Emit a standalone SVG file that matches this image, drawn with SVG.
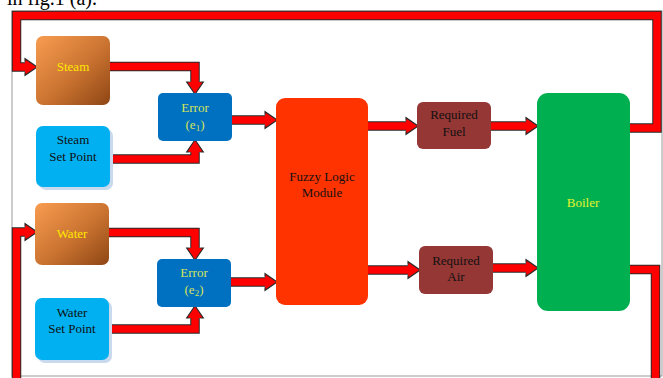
<svg xmlns="http://www.w3.org/2000/svg" width="663" height="378" viewBox="0 0 663 378">
<style>
.t{font-family:"Liberation Serif","Times New Roman",serif;font-size:13px;text-anchor:middle}
.dark{fill:#111}
.yel{fill:#FFE800}
.err{fill:#D4E45C}
.ol{fill:none;stroke:#2a2a2a;stroke-width:9.5;stroke-linejoin:miter}
.rd{fill:none;stroke:#FF0000;stroke-width:7.5;stroke-linejoin:miter}
.sh{fill:#C9D9EE}
</style>
<defs>
<linearGradient id="og" x1="0" y1="0" x2="1" y2="1">
<stop offset="0" stop-color="#F89C50"/>
<stop offset="0.55" stop-color="#C97230"/>
<stop offset="1" stop-color="#8E4614"/>
</linearGradient>
<marker id="ah" markerUnits="userSpaceOnUse" markerWidth="16" markerHeight="20" viewBox="-1 -9 14 18" refX="0" refY="0" orient="auto" overflow="visible">
<path d="M0,-4.7 L0,-7.5 L11,0 L0,7.5 L0,4.7" fill="#FF0000" stroke="#2a2a2a" stroke-width="1"/>
</marker>
</defs>
<rect width="663" height="378" fill="#ffffff"/>
<text x="7" y="5" style="font-family:'Liberation Serif','Times New Roman',serif;font-size:20px" fill="#000">in fig.1 (a).</text>
<rect x="12" y="11" width="650" height="365" fill="none" stroke="#9a9a9a" stroke-width="1"/>

<g id="connectors">
<path class="ol" d="M629,128 H657 V15.5 H16.5 V67 H25"/>
<path class="rd" d="M629,128 H657 V15.5 H16.5 V67 H25" marker-end="url(#ah)"/>
<path class="ol" d="M629,269.5 H655.5 V382"/>
<path class="rd" d="M629,269.5 H655.5 V382"/>
<path class="ol" d="M16.5,382 V232 H25"/>
<path class="rd" d="M16.5,382 V232 H25" marker-end="url(#ah)"/>
<path class="ol" d="M110,66.5 H195 V82"/>
<path class="rd" d="M110,66.5 H195 V82" marker-end="url(#ah)"/>
<path class="ol" d="M110,159 H195 V152"/>
<path class="rd" d="M110,159 H195 V152" marker-end="url(#ah)"/>
<path class="ol" d="M232,120 H265"/>
<path class="rd" d="M232,120 H265" marker-end="url(#ah)"/>
<path class="ol" d="M109,232.5 H195 V248"/>
<path class="rd" d="M109,232.5 H195 V248" marker-end="url(#ah)"/>
<path class="ol" d="M109,329 H195 V318"/>
<path class="rd" d="M109,329 H195 V318" marker-end="url(#ah)"/>
<path class="ol" d="M231,282 H265"/>
<path class="rd" d="M231,282 H265" marker-end="url(#ah)"/>
<path class="ol" d="M368,126 H406"/>
<path class="rd" d="M368,126 H406" marker-end="url(#ah)"/>
<path class="ol" d="M368,270 H408"/>
<path class="rd" d="M368,270 H408" marker-end="url(#ah)"/>
<path class="ol" d="M491,126 H526"/>
<path class="rd" d="M491,126 H526" marker-end="url(#ah)"/>
<path class="ol" d="M493,268 H526"/>
<path class="rd" d="M493,268 H526" marker-end="url(#ah)"/>
</g>

<g id="steam">
<rect x="36" y="36" width="74" height="69" rx="7" fill="url(#og)"/>
<text class="t yel" x="73" y="71">Steam</text>
</g>
<g id="steam-set-point">
<rect class="sh" x="39" y="129" width="74" height="61" rx="7"/>
<rect x="36" y="126" width="74" height="61" rx="7" fill="#00B0F0"/>
<text class="t dark" x="73" y="144">Steam</text>
<text class="t dark" x="73" y="161">Set Point</text>
</g>
<g id="error1">
<rect x="158" y="93" width="74" height="48" rx="5" fill="#0070C0"/>
<text class="t err" x="195" y="112">Error</text>
<text class="t err" x="195" y="129">(e<tspan font-size="9" dy="2">1</tspan><tspan dy="-2">)</tspan></text>
</g>
<g id="water">
<rect x="35" y="203" width="74" height="62" rx="7" fill="url(#og)"/>
<text class="t yel" x="72" y="238">Water</text>
</g>
<g id="water-set-point">
<rect class="sh" x="38" y="301" width="74" height="62" rx="7"/>
<rect x="35" y="298" width="74" height="62" rx="7" fill="#00B0F0"/>
<text class="t dark" x="72" y="317">Water</text>
<text class="t dark" x="72" y="333">Set Point</text>
</g>
<g id="error2">
<rect x="157" y="259" width="74" height="48" rx="5" fill="#0070C0"/>
<text class="t err" x="194" y="277">Error</text>
<text class="t err" x="194" y="294">(e<tspan font-size="9" dy="2">2</tspan><tspan dy="-2">)</tspan></text>
</g>
<g id="fuzzy">
<rect x="276" y="98" width="92" height="207" rx="9" fill="#FF3300"/>
<text class="t dark" x="322" y="181">Fuzzy Logic</text>
<text class="t dark" x="322" y="197">Module</text>
</g>
<g id="fuel">
<rect x="417" y="102" width="74" height="47" rx="6" fill="#953735"/>
<text class="t dark" x="454" y="119">Required</text>
<text class="t dark" x="454" y="136">Fuel</text>
</g>
<g id="air">
<rect x="419" y="246" width="74" height="48" rx="6" fill="#953735"/>
<text class="t dark" x="456" y="265">Required</text>
<text class="t dark" x="456" y="281">Air</text>
</g>
<g id="boiler">
<rect x="537" y="93" width="93" height="218" rx="11" fill="#00B050"/>
<text class="t" x="583" y="207" fill="#E6F22E">Boiler</text>
</g>
</svg>
